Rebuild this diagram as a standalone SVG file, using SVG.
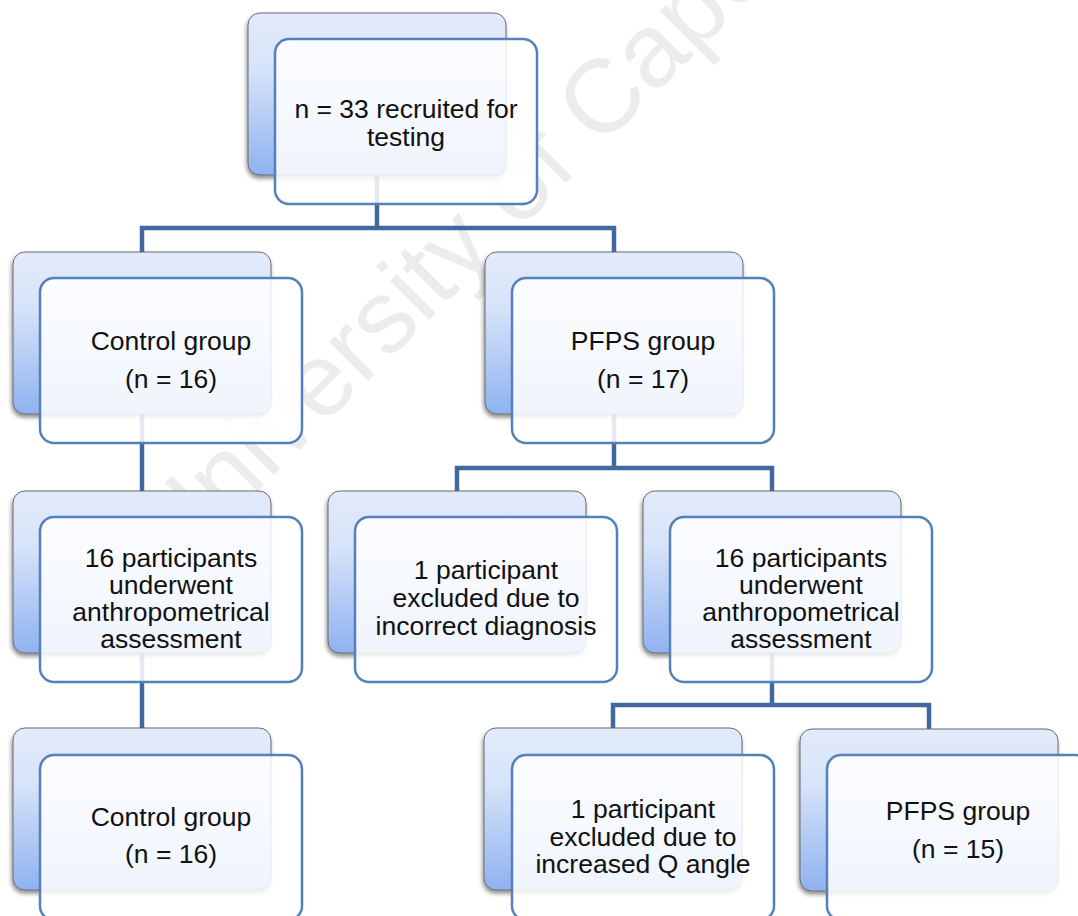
<svg xmlns="http://www.w3.org/2000/svg" width="1078" height="916" viewBox="0 0 1078 916">
<defs>
<linearGradient id="backGrad" x1="0" y1="0" x2="0" y2="1">
<stop offset="0" stop-color="#e2ebfb"/>
<stop offset="0.35" stop-color="#d6e3f9"/>
<stop offset="1" stop-color="#8fb2f0"/>
</linearGradient>
<filter id="shadow" x="-10%" y="-10%" width="120%" height="125%">
<feDropShadow dx="-1" dy="3" stdDeviation="2" flood-color="#000" flood-opacity="0.45"/>
</filter>
</defs>
<style>
.back{fill:url(#backGrad);stroke:#6b6b6b;stroke-width:1;filter:url(#shadow)}
.front{fill:#ffffff;fill-opacity:0.86;stroke:#5580ba;stroke-width:2.5}
.lbl{font-family:"Liberation Sans",Arial,sans-serif;font-size:26.5px;fill:#111;text-anchor:middle}
.conn{fill:none;stroke:#41699f;stroke-width:4.5;stroke-linejoin:miter}
.wm{font-family:"Liberation Sans",Arial,sans-serif;font-size:104px;fill:#ececec}
</style>
<rect width="1078" height="916" fill="#ffffff"/>
<text class="wm" x="175" y="574" transform="rotate(-45 175 574)">University of Cape Town</text>
<g id="connectors">
<path class="conn" d="M377,175 V228 H142 V252 M377,228 H614 V252"/>
<path class="conn" d="M142,413 V491"/>
<path class="conn" d="M142,653 V728"/>
<path class="conn" d="M614,413 V468 H457 V491 M614,468 H772 V491"/>
<path class="conn" d="M772,652 V705 H613 V728 M772,705 H929 V729"/>
</g>
<g id="node-recruited">
<rect class="back" x="248" y="13" width="258" height="162" rx="12"/>
<rect class="front" x="275" y="39" width="262" height="165" rx="14"/>
<text class="lbl" x="406" y="118">n = 33 recruited for</text>
<text class="lbl" x="406" y="145.5">testing</text>
</g>
<g id="node-control16">
<rect class="back" x="13" y="252" width="258" height="162" rx="12"/>
<rect class="front" x="40" y="278" width="262" height="165" rx="14"/>
<text class="lbl" x="171" y="350">Control group</text>
<text class="lbl" x="171" y="388">(n = 16)</text>
</g>
<g id="node-pfps17">
<rect class="back" x="485" y="252" width="258" height="162" rx="12"/>
<rect class="front" x="512" y="278" width="262" height="165" rx="14"/>
<text class="lbl" x="643" y="350">PFPS group</text>
<text class="lbl" x="643" y="388">(n = 17)</text>
</g>
<g id="node-assess-left">
<rect class="back" x="13" y="491" width="258" height="162" rx="12"/>
<rect class="front" x="40" y="517" width="262" height="165" rx="14"/>
<text class="lbl" x="171" y="567">16 participants</text>
<text class="lbl" x="171" y="594">underwent</text>
<text class="lbl" x="171" y="621">anthropometrical</text>
<text class="lbl" x="171" y="648">assessment</text>
</g>
<g id="node-excluded-diagnosis">
<rect class="back" x="328" y="491" width="258" height="162" rx="12"/>
<rect class="front" x="355" y="517" width="262" height="165" rx="14"/>
<text class="lbl" x="486" y="579">1 participant</text>
<text class="lbl" x="486" y="607">excluded due to</text>
<text class="lbl" x="486" y="635">incorrect diagnosis</text>
</g>
<g id="node-assess-right">
<rect class="back" x="643" y="491" width="258" height="162" rx="12"/>
<rect class="front" x="670" y="517" width="262" height="165" rx="14"/>
<text class="lbl" x="801" y="567">16 participants</text>
<text class="lbl" x="801" y="594">underwent</text>
<text class="lbl" x="801" y="621">anthropometrical</text>
<text class="lbl" x="801" y="648">assessment</text>
</g>
<g id="node-control16-final">
<rect class="back" x="13" y="728" width="258" height="162" rx="12"/>
<rect class="front" x="40" y="755" width="262" height="165" rx="14"/>
<text class="lbl" x="171" y="826">Control group</text>
<text class="lbl" x="171" y="863">(n = 16)</text>
</g>
<g id="node-excluded-qangle">
<rect class="back" x="484" y="728" width="258" height="162" rx="12"/>
<rect class="front" x="512" y="755" width="262" height="165" rx="14"/>
<text class="lbl" x="643" y="818">1 participant</text>
<text class="lbl" x="643" y="846">excluded due to</text>
<text class="lbl" x="643" y="873">increased Q angle</text>
</g>
<g id="node-pfps15">
<rect class="back" x="800" y="729" width="258" height="162" rx="12"/>
<rect class="front" x="827" y="755" width="262" height="165" rx="14"/>
<text class="lbl" x="958" y="820">PFPS group</text>
<text class="lbl" x="958" y="858">(n = 15)</text>
</g>
</svg>
